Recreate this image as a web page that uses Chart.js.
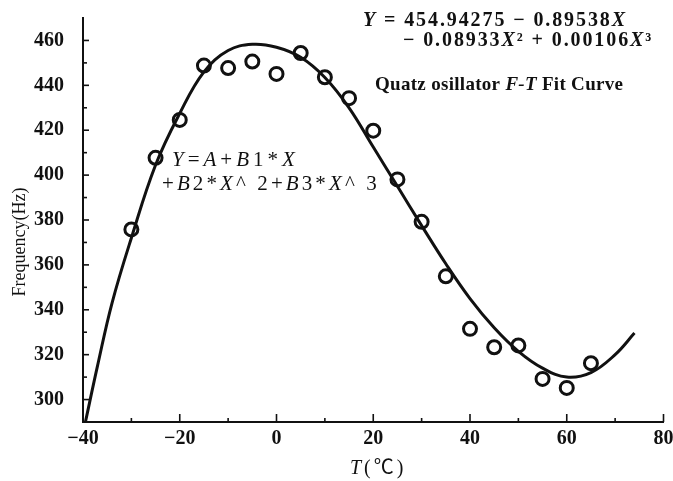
<!DOCTYPE html>
<html>
<head>
<meta charset="utf-8">
<script src="https://cdn.jsdelivr.net/npm/chart.js@4.4.1/dist/chart.umd.min.js"></script>
<style>
  html, body { margin: 0; padding: 0; background: #fff; }
  #wrap { width: 673px; height: 481px; }
</style>
</head>
<body>
<div id="wrap"><canvas id="chart" width="673" height="481"></canvas></div>
<script>
// measured points: temperature (°C) and frequency (Hz)
const tempPoints = [-30, -25, -20, -15, -10, -5, 0, 5, 10, 15, 20, 25, 30, 35, 40, 45, 50, 55, 60, 65];
const freqPoints = [375.8, 407.7, 424.6, 448.8, 447.7, 450.6, 445.1, 454.4, 443.6, 434.3, 419.8, 398.1, 379.2, 354.9, 331.5, 323.3, 324.1, 309.2, 305.2, 316.2];

// fit curve
const fitTemp = [-39.5, -37, -34, -30, -25, -20, -15, -10, -5, 0, 5, 10, 15, 20, 25, 30, 35, 40, 45, 50, 55, 60, 65, 70, 74];
const fitFreq = [290, 315, 343, 372, 404.5, 427.5, 446, 455.5, 458.3, 457, 452.5, 443.5, 430, 412.5, 395, 377.5, 360.5, 345, 332, 321.5, 314, 310, 312, 320, 329.6];

// axes
const xTickValues = [-40, -20, 0, 20, 40, 60, 80];
const xMinorValues = [-30, -10, 10, 30, 50, 70];
const yTickValues = [300, 320, 340, 360, 380, 400, 420, 440, 460];
const yMinorValues = [310, 330, 350, 370, 390, 410, 430, 450];

const ink = '#111';
const serif = '"Liberation Serif", "Noto Sans CJK SC", serif';

// draws a line of text made of pieces, some in italic
function drawRuns(ctx, x, y, runs, size, weight, spacing) {
  ctx.letterSpacing = spacing + 'px';
  runs.forEach(([txt, italic]) => {
    ctx.font = (italic ? 'italic ' : '') + weight + ' ' + size + 'px ' + serif;
    ctx.fillText(txt, x, y);
    x += ctx.measureText(txt).width;
  });
  ctx.letterSpacing = '0px';
}

const extras = {
  id: 'extras',
  afterDraw(chart) {
    const { ctx, chartArea } = chart;
    const x = chart.scales.x;
    const y = chart.scales.y;
    ctx.save();
    ctx.strokeStyle = ink;
    ctx.fillStyle = ink;
    ctx.lineWidth = 1.6;

    // inward tick marks
    const tick = (x1, y1, x2, y2) => {
      ctx.beginPath();
      ctx.moveTo(x1, y1);
      ctx.lineTo(x2, y2);
      ctx.stroke();
    };
    xTickValues.forEach(v => { const px = x.getPixelForValue(v); tick(px, chartArea.bottom, px, chartArea.bottom - 8); });
    xMinorValues.forEach(v => { const px = x.getPixelForValue(v); tick(px, chartArea.bottom, px, chartArea.bottom - 4); });
    yTickValues.forEach(v => { const py = y.getPixelForValue(v); tick(chartArea.left, py, chartArea.left + 6, py); });
    yMinorValues.forEach(v => { const py = y.getPixelForValue(v); tick(chartArea.left, py, chartArea.left + 4, py); });

    ctx.textBaseline = 'alphabetic';
    ctx.textAlign = 'left';

    // fit equation, top right
    drawRuns(ctx, 363, 26, [['Y', true], [' = 454.94275 − 0.89538', false], ['X', true]], 20, 'bold', 1.9);
    drawRuns(ctx, 403, 46, [['− 0.08933', false], ['X', true], ['² + 0.00106', false], ['X', true], ['³', false]], 20, 'bold', 1.9);
    drawRuns(ctx, 375, 90, [['Quatz osillator ', false], ['F-T', true], [' Fit Curve', false]], 19, 'bold', 0.3);

    // model, inside the plot
    drawRuns(ctx, 172, 166, [['Y', true], ['=', false], ['A', true], ['+', false], ['B', true], ['1*', false], ['X', true]], 21, 'normal', 4);
    drawRuns(ctx, 162, 190, [['+', false], ['B', true], ['2*', false], ['X', true], ['^ 2+', false], ['B', true], ['3*', false], ['X', true], ['^ 3', false]], 21, 'normal', 3.1);

    // axis titles
    drawRuns(ctx, 350, 474, [['T', true], ['(℃)', false]], 20, 'normal', 3);
    ctx.translate(20, 242);
    ctx.rotate(-Math.PI / 2);
    ctx.textAlign = 'center';
    ctx.textBaseline = 'middle';
    ctx.font = 'normal 18px ' + serif;
    ctx.fillText('Frequency(Hz)', 0, 0);
    ctx.restore();
  }
};

new Chart(document.getElementById('chart'), {
  type: 'scatter',
  data: {
    datasets: [
      {
        label: 'Fit',
        data: fitTemp.map((t, i) => ({ x: t, y: fitFreq[i] })),
        showLine: true,
        borderColor: ink,
        borderWidth: 3,
        pointRadius: 0,
        tension: 0.4
      },
      {
        label: 'Measured',
        data: tempPoints.map((t, i) => ({ x: t, y: freqPoints[i] })),
        pointRadius: 6.5,
        pointBorderWidth: 3,
        pointBorderColor: ink,
        pointBackgroundColor: 'rgba(0,0,0,0)'
      }
    ]
  },
  options: {
    responsive: false,
    animation: false,
    devicePixelRatio: 1,
    layout: { padding: { left: 0, right: 8, top: 18, bottom: 0 } },
    plugins: {
      legend: { display: false },
      tooltip: { enabled: false }
    },
    scales: {
      x: {
        type: 'linear',
        min: -40,
        max: 80,
        grid: { display: false },
        border: { display: true, color: ink, width: 2 },
        afterBuildTicks: s => { s.ticks = xTickValues.map(v => ({ value: v })); },
        afterFit: s => { s.height = 59; s.paddingLeft = 0; s.paddingRight = 0; },
        ticks: {
          color: ink,
          padding: -3,
          maxRotation: 0,
          font: { family: serif, size: 20, weight: 'bold' },
          callback: v => v < 0 ? '−' + Math.abs(v) : String(v)
        }
      },
      y: {
        type: 'linear',
        min: 290,
        max: 470,
        grid: { display: false },
        border: { display: true, color: ink, width: 2 },
        afterBuildTicks: s => { s.ticks = yTickValues.map(v => ({ value: v })); },
        afterFit: s => { s.width = 83; s.paddingTop = 0; s.paddingBottom = 0; },
        ticks: {
          color: ink,
          padding: 11,
          font: { family: serif, size: 20, weight: 'bold' }
        }
      }
    }
  },
  plugins: [extras]
});
</script>
</body>
</html>
